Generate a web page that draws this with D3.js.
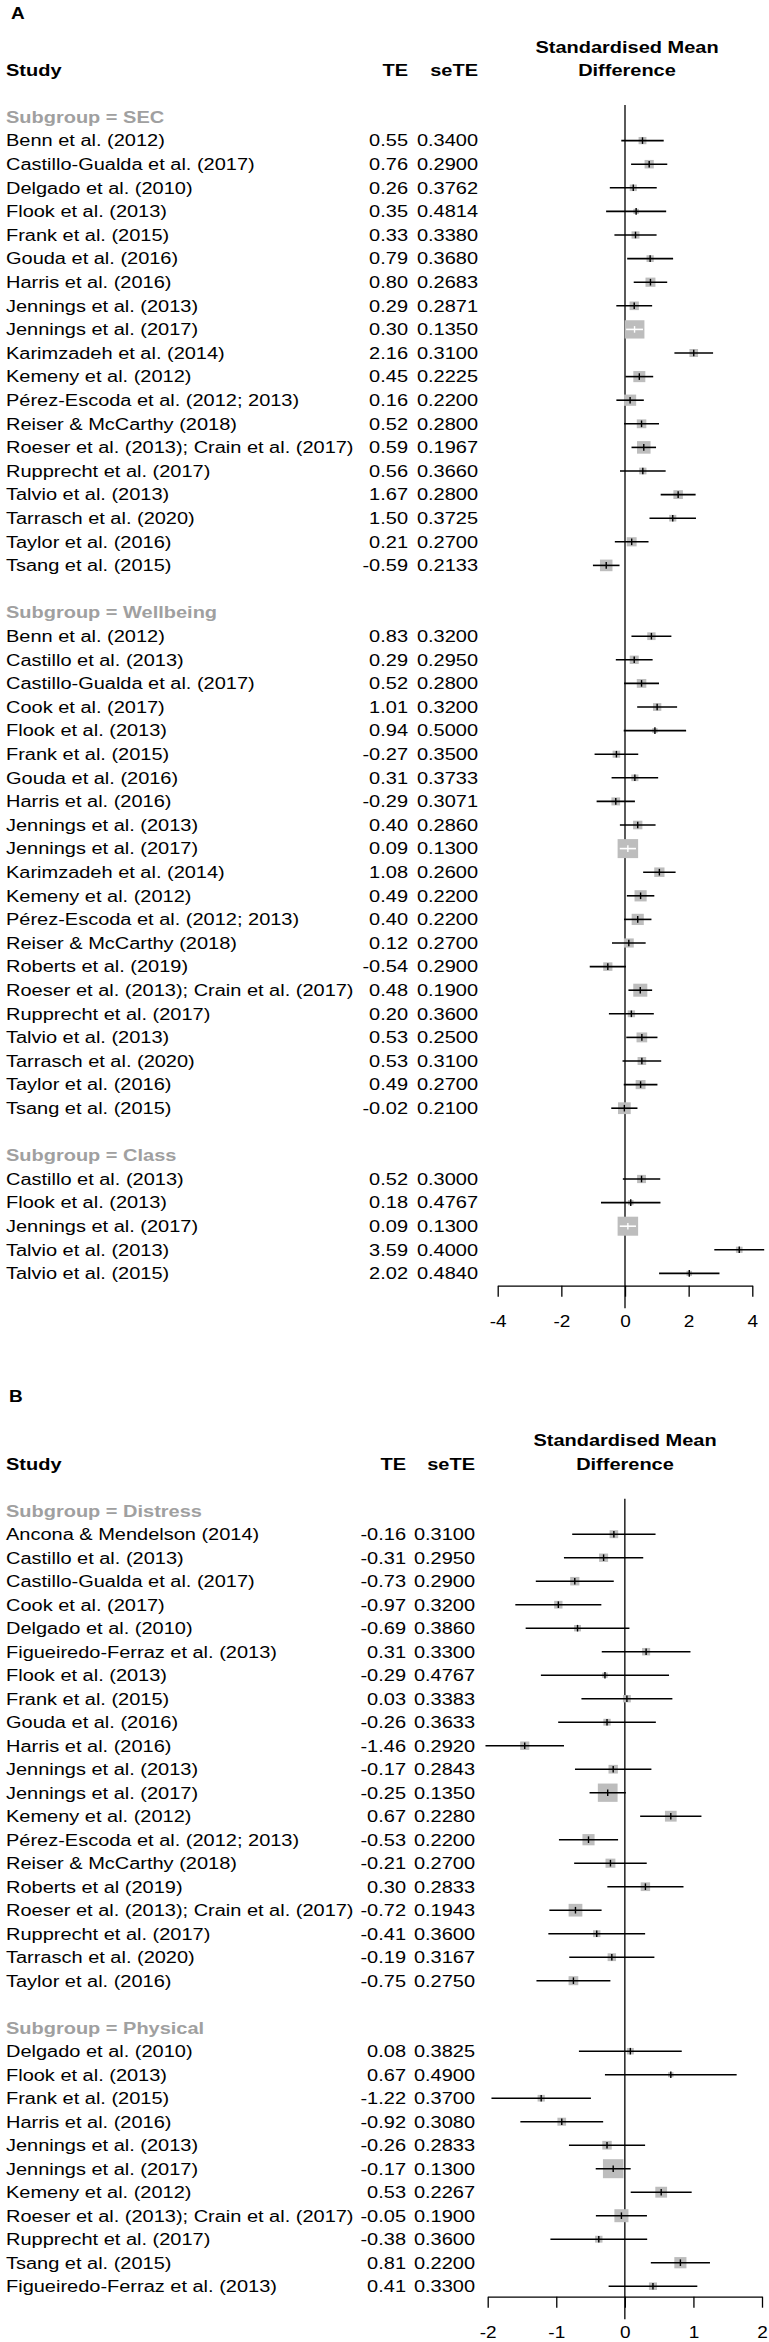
<!DOCTYPE html>
<html>
<head>
<meta charset="utf-8">
<script src="https://cdn.jsdelivr.net/npm/d3@7"></script>
<style>
  body { margin: 0; background: #fff; }
  text { font-family: "Liberation Sans", Arial, sans-serif; fill: #000; }
  .hdr { font-weight: bold; }
  .sub { font-weight: bold; fill: #a0a0a0; }
</style>
</head>
<body>
<script>
// ---- panel A: SEC / Wellbeing / Class ----
var secStudy = ["Benn et al. (2012)", "Castillo-Gualda et al. (2017)", "Delgado et al. (2010)", "Flook et al. (2013)",
  "Frank et al. (2015)", "Gouda et al. (2016)", "Harris et al. (2016)", "Jennings et al. (2013)", "Jennings et al. (2017)",
  "Karimzadeh et al. (2014)", "Kemeny et al. (2012)", "Pérez-Escoda et al. (2012; 2013)", "Reiser & McCarthy (2018)",
  "Roeser et al. (2013); Crain et al. (2017)", "Rupprecht et al. (2017)", "Talvio et al. (2013)", "Tarrasch et al. (2020)",
  "Taylor et al. (2016)", "Tsang et al. (2015)"];
var secTE = [0.55, 0.76, 0.26, 0.35, 0.33, 0.79, 0.80, 0.29, 0.30, 2.16, 0.45, 0.16, 0.52, 0.59, 0.56, 1.67, 1.50, 0.21, -0.59];
var secSE = [0.3400, 0.2900, 0.3762, 0.4814, 0.3380, 0.3680, 0.2683, 0.2871, 0.1350, 0.3100, 0.2225, 0.2200, 0.2800,
  0.1967, 0.3660, 0.2800, 0.3725, 0.2700, 0.2133];

var wbStudy = ["Benn et al. (2012)", "Castillo et al. (2013)", "Castillo-Gualda et al. (2017)", "Cook et al. (2017)",
  "Flook et al. (2013)", "Frank et al. (2015)", "Gouda et al. (2016)", "Harris et al. (2016)", "Jennings et al. (2013)",
  "Jennings et al. (2017)", "Karimzadeh et al. (2014)", "Kemeny et al. (2012)", "Pérez-Escoda et al. (2012; 2013)",
  "Reiser & McCarthy (2018)", "Roberts et al. (2019)", "Roeser et al. (2013); Crain et al. (2017)", "Rupprecht et al. (2017)",
  "Talvio et al. (2013)", "Tarrasch et al. (2020)", "Taylor et al. (2016)", "Tsang et al. (2015)"];
var wbTE = [0.83, 0.29, 0.52, 1.01, 0.94, -0.27, 0.31, -0.29, 0.40, 0.09, 1.08, 0.49, 0.40, 0.12, -0.54, 0.48, 0.20,
  0.53, 0.53, 0.49, -0.02];
var wbSE = [0.3200, 0.2950, 0.2800, 0.3200, 0.5000, 0.3500, 0.3733, 0.3071, 0.2860, 0.1300, 0.2600, 0.2200, 0.2200,
  0.2700, 0.2900, 0.1900, 0.3600, 0.2500, 0.3100, 0.2700, 0.2100];

var classStudy = ["Castillo et al. (2013)", "Flook et al. (2013)", "Jennings et al. (2017)", "Talvio et al. (2013)", "Talvio et al. (2015)"];
var classTE = [0.52, 0.18, 0.09, 3.59, 2.02];
var classSE = [0.3000, 0.4767, 0.1300, 0.4000, 0.4840];

// ---- panel B: Distress / Physical ----
var disStudy = ["Ancona & Mendelson (2014)", "Castillo et al. (2013)", "Castillo-Gualda et al. (2017)", "Cook et al. (2017)",
  "Delgado et al. (2010)", "Figueiredo-Ferraz et al. (2013)", "Flook et al. (2013)", "Frank et al. (2015)", "Gouda et al. (2016)",
  "Harris et al. (2016)", "Jennings et al. (2013)", "Jennings et al. (2017)", "Kemeny et al. (2012)",
  "Pérez-Escoda et al. (2012; 2013)", "Reiser & McCarthy (2018)", "Roberts et al (2019)",
  "Roeser et al. (2013); Crain et al. (2017)", "Rupprecht et al. (2017)", "Tarrasch et al. (2020)", "Taylor et al. (2016)"];
var disTE = [-0.16, -0.31, -0.73, -0.97, -0.69, 0.31, -0.29, 0.03, -0.26, -1.46, -0.17, -0.25, 0.67, -0.53, -0.21, 0.30,
  -0.72, -0.41, -0.19, -0.75];
var disSE = [0.3100, 0.2950, 0.2900, 0.3200, 0.3860, 0.3300, 0.4767, 0.3383, 0.3633, 0.2920, 0.2843, 0.1350, 0.2280,
  0.2200, 0.2700, 0.2833, 0.1943, 0.3600, 0.3167, 0.2750];

var physStudy = ["Delgado et al. (2010)", "Flook et al. (2013)", "Frank et al. (2015)", "Harris et al. (2016)",
  "Jennings et al. (2013)", "Jennings et al. (2017)", "Kemeny et al. (2012)", "Roeser et al. (2013); Crain et al. (2017)",
  "Rupprecht et al. (2017)", "Tsang et al. (2015)", "Figueiredo-Ferraz et al. (2013)"];
var physTE = [0.08, 0.67, -1.22, -0.92, -0.26, -0.17, 0.53, -0.05, -0.38, 0.81, 0.41];
var physSE = [0.3825, 0.4900, 0.3700, 0.3080, 0.2833, 0.1300, 0.2267, 0.1900, 0.3600, 0.2200, 0.3300];

var ticksA = [-4, -2, 0, 2, 4];
var ticksB = [-2, -1, 0, 1, 2];

var W = 769, H = 2342;
var svg = d3.select("body").append("svg").attr("width", W).attr("height", H);

var loc = d3.formatLocale({decimal: ".", thousands: ",", grouping: [3], currency: ["", ""], minus: "-"});
var f2 = loc.format(".2f"), f4 = loc.format(".4f"), f0 = loc.format("d");

var sy = 0.82; // glyphs in the picture are a bit flattened

function txt(g, s, x, y, anchor, cls, size) {
  size = size || 20;
  return g.append("text")
    .attr("transform", "translate(" + x + "," + (y + 0.358 * size * sy) + ") scale(1," + sy + ")")
    .attr("text-anchor", anchor || "start")
    .attr("font-size", size)
    .attr("class", cls || null)
    .text(s);
}

// box size ~ sqrt(inverse variance weight)
var allSE = [].concat(secSE, wbSE, classSE, disSE, physSE);
var box = d3.scaleSqrt().domain([0, d3.max(allSE, function(s) { return 1 / (s * s); })]).range([0, 19]);

function panel(cfg) {
  var g = svg.append("g");

  var rows = [];
  cfg.groups.forEach(function(grp, gi) {
    if (gi > 0) rows.push({type: "blank"});
    rows.push({type: "sub", label: "Subgroup = " + grp.name});
    grp.study.forEach(function(s, i) {
      rows.push({type: "study", study: s, te: grp.te[i], se: grp.se[i]});
    });
  });
  rows.forEach(function(r, i) { r.i = i; });

  var y = d3.scaleLinear().domain([0, 1]).range([cfg.rowTop, cfg.rowTop + cfg.step]);
  var x = d3.scaleLinear().domain(d3.extent(cfg.ticks)).range(cfg.xRange);
  var last = rows.length - 1;
  var axisY = y(last) + cfg.axisGap;

  // headings
  txt(g, cfg.label, cfg.labelX, cfg.labelY, "start", "hdr", 19);
  txt(g, "Standardised Mean", cfg.hdrX, y(0) - 70.3, "middle", "hdr");
  txt(g, "Difference", cfg.hdrX, y(0) - 47, "middle", "hdr");
  txt(g, "Study", 6, y(0) - 47, "start", "hdr");
  txt(g, "TE", cfg.teX, y(0) - 47, "end", "hdr");
  txt(g, "seTE", cfg.seX, y(0) - 47, "end", "hdr");

  // reference line at 0
  g.append("line")
    .attr("x1", x(0)).attr("x2", x(0))
    .attr("y1", y(0) - 12).attr("y2", axisY + 22.5)
    .attr("stroke", "#000").attr("stroke-width", 1.3);

  rows.forEach(function(r) {
    if (r.type === "sub") txt(g, r.label, 6, y(r.i), "start", "sub");
    if (r.type !== "study") return;
    txt(g, r.study, 6, y(r.i));
    txt(g, f2(r.te), cfg.teX, y(r.i), "end");
    txt(g, f4(r.se), cfg.seX, y(r.i), "end");

    var s = box(1 / (r.se * r.se));
    var lo = r.te - 1.96 * r.se, hi = r.te + 1.96 * r.se;
    var bw = s * 1.08;
    var inside = x(lo) >= x(r.te) - bw / 2 && x(hi) <= x(r.te) + bw / 2;
    var col = inside ? "#fff" : "#000";
    var cy = y(r.i);

    g.append("rect")
      .attr("x", x(r.te) - bw / 2).attr("y", cy - s / 2)
      .attr("width", bw).attr("height", s)
      .attr("fill", "#bdbdbd");
    g.append("line")
      .attr("x1", x(lo)).attr("x2", x(hi))
      .attr("y1", cy).attr("y2", cy)
      .attr("stroke", col).attr("stroke-width", 1.6);
    g.append("line")
      .attr("x1", x(r.te)).attr("x2", x(r.te))
      .attr("y1", cy - 3.3).attr("y2", cy + 3.3)
      .attr("stroke", col).attr("stroke-width", 1.4);
  });

  // x axis
  var ax = g.append("g")
    .attr("transform", "translate(0," + axisY + ")")
    .call(d3.axisBottom(x).tickValues(cfg.ticks).tickSize(11).tickSizeOuter(0).tickFormat(f0));
  ax.attr("font-family", null).attr("font-size", null);
  ax.select(".domain").attr("stroke", "#000").attr("stroke-width", 1.3);
  ax.selectAll(".tick line").attr("stroke", "#000").attr("stroke-width", 1.3);
  ax.selectAll(".tick text")
    .attr("y", null).attr("dy", null)
    .attr("font-size", 19)
    .attr("transform", "translate(0," + (36 + 0.358 * 19 * sy) + ") scale(1," + sy + ")");
}

panel({
  label: "A", labelX: 11, labelY: 13,
  rowTop: 117, step: 23.6, axisGap: 12.3,
  xRange: [497.7, 752.3], ticks: ticksA,
  hdrX: 627, teX: 408, seX: 478,
  groups: [
    {name: "SEC", study: secStudy, te: secTE, se: secSE},
    {name: "Wellbeing", study: wbStudy, te: wbTE, se: wbSE},
    {name: "Class", study: classStudy, te: classTE, se: classSE}
  ]
});

panel({
  label: "B", labelX: 9, labelY: 1396,
  rowTop: 1510.7, step: 23.5, axisGap: 10.5,
  xRange: [487.7, 762], ticks: ticksB,
  hdrX: 625, teX: 406, seX: 475,
  groups: [
    {name: "Distress", study: disStudy, te: disTE, se: disSE},
    {name: "Physical", study: physStudy, te: physTE, se: physSE}
  ]
});
</script>
</body>
</html>
